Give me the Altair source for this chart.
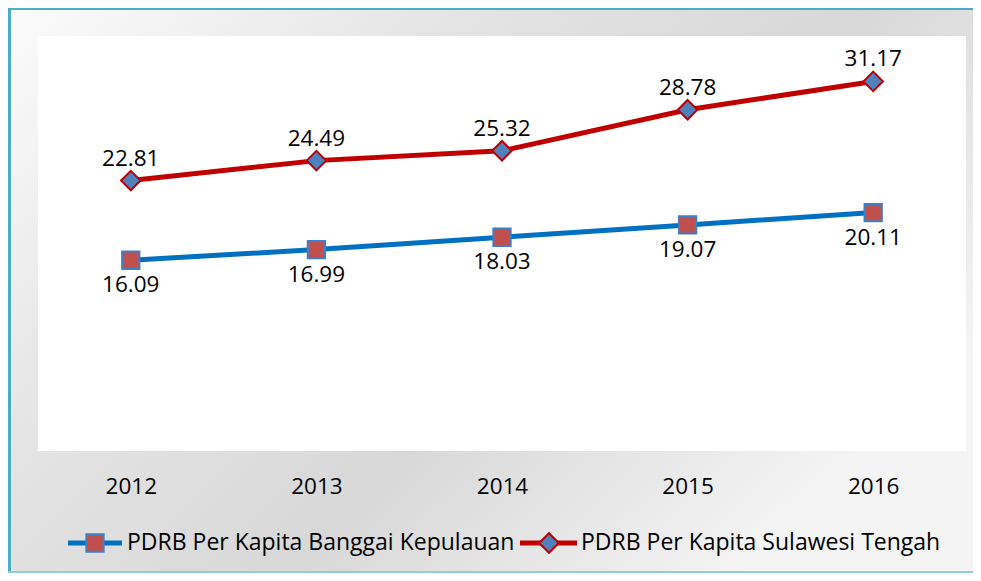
import altair as alt
import pandas as pd

years = ["2012", "2013", "2014", "2015", "2016"]
banggai = [16.09, 16.99, 18.03, 19.07, 20.11]
sulteng = [22.81, 24.49, 25.32, 28.78, 31.17]
series_names = ["PDRB Per Kapita Banggai Kepulauan", "PDRB Per Kapita Sulawesi Tengah"]

FONT = "Open Sans"
W, H = 928, 415

df_b = pd.DataFrame({"year": years, "value": banggai, "label": [f"{v:.2f}" for v in banggai]})
df_s = pd.DataFrame({"year": years, "value": sulteng, "label": [f"{v:.2f}" for v in sulteng]})
one = pd.DataFrame({"k": [0]})

xenc = alt.X("year:N", scale=alt.Scale(type="point", padding=0.5),
             axis=alt.Axis(title=None, labelFontSize=22.5, labelFont=FONT, domain=False,
                           ticks=False, grid=False, labelPadding=24, labelColor="black",
                           labelAngle=0, zindex=1))
yenc = alt.Y("value:Q", scale=alt.Scale(domain=[0, 35]), axis=None)

grad = alt.LinearGradient(
    gradient="linear",
    stops=[alt.GradientStop(color="#fbfbfb", offset=0),
           alt.GradientStop(color="#e4e4e4", offset=0.35),
           alt.GradientStop(color="#d8d8d8", offset=0.65),
           alt.GradientStop(color="#f4f4f4", offset=1)],
    x1=0, y1=0, x2=1, y2=0.6)

bg = alt.Chart(one).mark_rect(fill=grad).encode(
    x=alt.value(-27), x2=alt.value(935), y=alt.value(-26), y2=alt.value(537))
white = alt.Chart(one).mark_rect(fill="white").encode(
    x=alt.value(0), x2=alt.value(W), y=alt.value(0), y2=alt.value(H))
border_left = alt.Chart(one).mark_rect(fill="#4BACC6").encode(
    x=alt.value(-30), x2=alt.value(-27), y=alt.value(-28), y2=alt.value(537))
border_top = alt.Chart(one).mark_rect(fill="#4BACC6").encode(
    x=alt.value(-30), x2=alt.value(935), y=alt.value(-28), y2=alt.value(-26))
border_bottom = alt.Chart(one).mark_rect(fill="#92CDDC").encode(
    x=alt.value(-30), x2=alt.value(935), y=alt.value(535), y2=alt.value(537))

line_b = alt.Chart(df_b).mark_line(color="#0070C0", strokeWidth=5).encode(x=xenc, y=yenc)
line_s = alt.Chart(df_s).mark_line(color="#C00000", strokeWidth=5).encode(x=xenc, y=yenc)
pts_b = alt.Chart(df_b).mark_point(shape="square", filled=True, fill="#C0504D", stroke="#3F7FC8",
                                   strokeWidth=2, size=300, opacity=1).encode(x=xenc, y=yenc)
pts_s = alt.Chart(df_s).mark_point(shape="diamond", filled=True, fill="#4F81BD", stroke="#C00000",
                                   strokeWidth=2, size=380, opacity=1).encode(x=xenc, y=yenc)
txt_b = alt.Chart(df_b).mark_text(fontSize=22.5, font=FONT, dy=25, color="black").encode(
    x=xenc, y=yenc, text="label:N")
txt_s = alt.Chart(df_s).mark_text(fontSize=22.5, font=FONT, dy=-22, color="black").encode(
    x=xenc, y=yenc, text="label:N")

LY = 507
leg1_line = alt.Chart(one).mark_rule(color="#0070C0", strokeWidth=5).encode(
    x=alt.value(30), x2=alt.value(84), y=alt.value(LY))
leg1_pt = alt.Chart(one).mark_point(shape="square", filled=True, fill="#C0504D", stroke="#3F7FC8",
                                    strokeWidth=2, size=300, opacity=1).encode(
    x=alt.value(57), y=alt.value(LY))
leg1_txt = alt.Chart(one).mark_text(align="left", baseline="middle", fontSize=23, font=FONT,
                                    color="black").encode(
    x=alt.value(89), y=alt.value(LY), text=alt.value(series_names[0]))
leg2_line = alt.Chart(one).mark_rule(color="#C00000", strokeWidth=5).encode(
    x=alt.value(482), x2=alt.value(539), y=alt.value(LY))
leg2_pt = alt.Chart(one).mark_point(shape="diamond", filled=True, fill="#4F81BD", stroke="#C00000",
                                    strokeWidth=2, size=380, opacity=1).encode(
    x=alt.value(511), y=alt.value(LY))
leg2_txt = alt.Chart(one).mark_text(align="left", baseline="middle", fontSize=23, font=FONT,
                                    color="black").encode(
    x=alt.value(543), y=alt.value(LY), text=alt.value(series_names[1]))

chart = alt.layer(
    bg, white, border_left, border_top, border_bottom,
    line_b, line_s, pts_b, pts_s, txt_b, txt_s,
    leg1_line, leg1_pt, leg1_txt, leg2_line, leg2_pt, leg2_txt,
).properties(
    width=W, height=H,
    padding={"left": 30, "top": 28, "right": 7, "bottom": 122},
    autosize=alt.AutoSizeParams(type="none"),
    background="white",
).configure_view(stroke=None)

chart.save("out.html", embed_options={"renderer": "svg", "actions": False})
